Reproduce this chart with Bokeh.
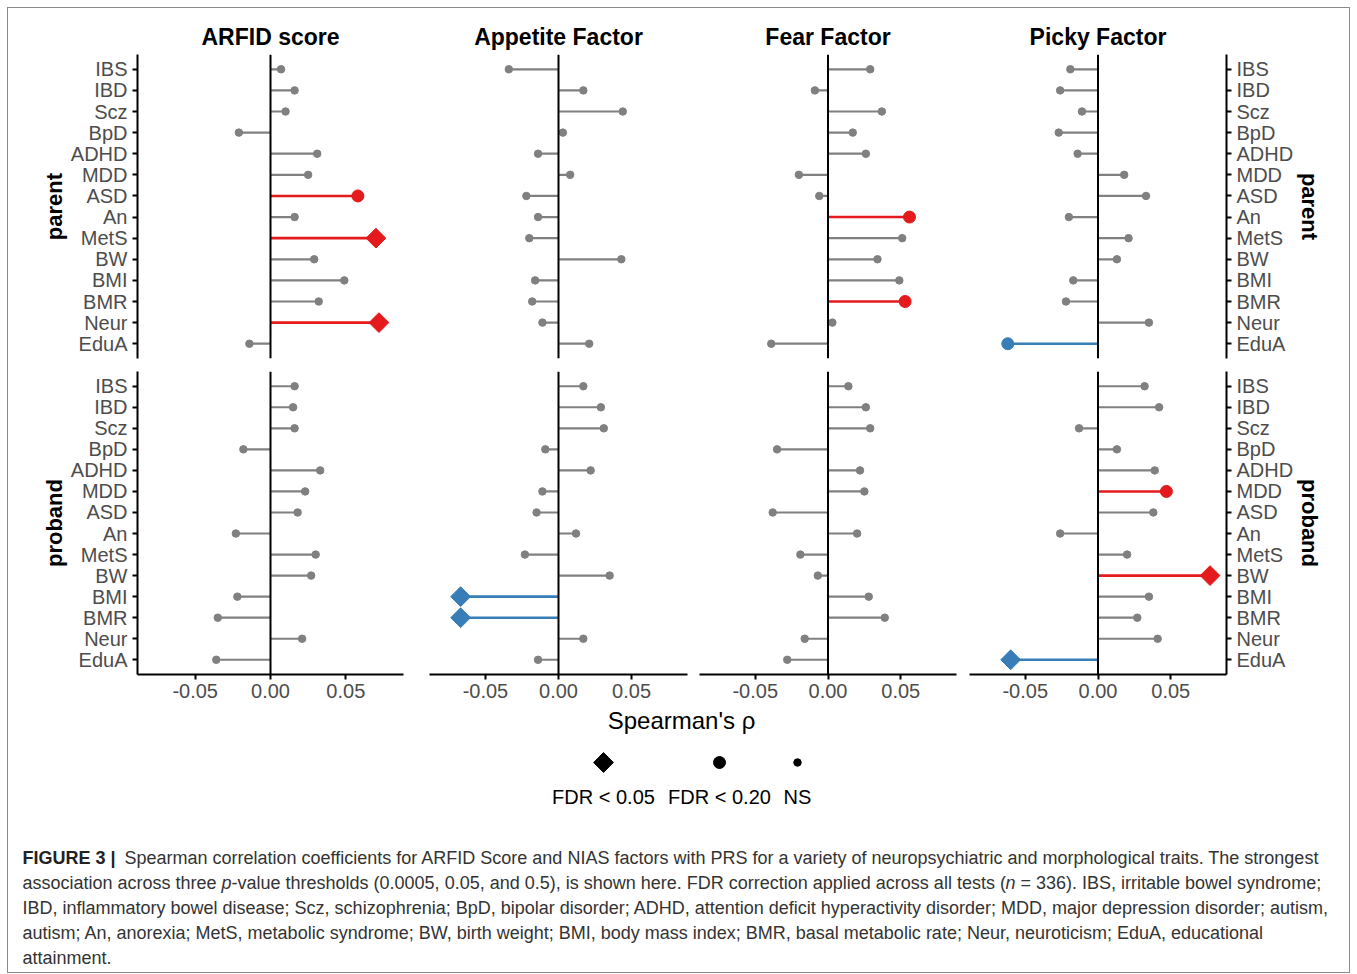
import math
from bokeh.plotting import figure
from bokeh.layouts import row, column
from bokeh.models import Range1d, FactorRange, Span, Label, ColumnDataSource, FixedTicker, NumeralTickFormatter
from bokeh.embed import file_html
from bokeh.resources import INLINE

# ---------------- data ----------------
traits = ["IBS", "IBD", "Scz", "BpD", "ADHD", "MDD", "ASD", "An", "MetS", "BW", "BMI", "BMR", "Neur", "EduA"]
factors = ["ARFID score", "Appetite Factor", "Fear Factor", "Picky Factor"]
groups = ["parent", "proband"]

# Spearman's rho (parent PRS)
parent_arfid    = [0.007, 0.016, 0.010, -0.021, 0.031, 0.025, 0.058, 0.016, 0.070, 0.029, 0.049, 0.032, 0.072, -0.014]
parent_appetite = [-0.034, 0.017, 0.044, 0.003, -0.014, 0.008, -0.022, -0.014, -0.020, 0.043, -0.016, -0.018, -0.011, 0.021]
parent_fear     = [0.029, -0.009, 0.037, 0.017, 0.026, -0.020, -0.006, 0.056, 0.051, 0.034, 0.049, 0.053, 0.003, -0.039]
parent_picky    = [-0.019, -0.026, -0.011, -0.027, -0.014, 0.018, 0.033, -0.020, 0.021, 0.013, -0.017, -0.022, 0.035, -0.062]
# Spearman's rho (proband PRS)
proband_arfid    = [0.016, 0.015, 0.016, -0.018, 0.033, 0.023, 0.018, -0.023, 0.030, 0.027, -0.022, -0.035, 0.021, -0.036]
proband_appetite = [0.017, 0.029, 0.031, -0.009, 0.022, -0.011, -0.015, 0.012, -0.023, 0.035, -0.067, -0.067, 0.017, -0.014]
proband_fear     = [0.014, 0.026, 0.029, -0.035, 0.022, 0.025, -0.038, 0.020, -0.019, -0.007, 0.028, 0.039, -0.016, -0.028]
proband_picky    = [0.032, 0.042, -0.013, 0.013, 0.039, 0.047, 0.038, -0.026, 0.020, 0.077, 0.035, 0.027, 0.041, -0.060]

# significance: 2 = FDR < 0.05, 1 = FDR < 0.20, 0 = NS
parent_arfid_sig    = [0, 0, 0, 0, 0, 0, 1, 0, 2, 0, 0, 0, 2, 0]
parent_appetite_sig = [0, 0, 0, 0, 0, 0, 0, 0, 0, 0, 0, 0, 0, 0]
parent_fear_sig     = [0, 0, 0, 0, 0, 0, 0, 1, 0, 0, 0, 1, 0, 0]
parent_picky_sig    = [0, 0, 0, 0, 0, 0, 0, 0, 0, 0, 0, 0, 0, 1]
proband_arfid_sig    = [0, 0, 0, 0, 0, 0, 0, 0, 0, 0, 0, 0, 0, 0]
proband_appetite_sig = [0, 0, 0, 0, 0, 0, 0, 0, 0, 0, 2, 2, 0, 0]
proband_fear_sig     = [0, 0, 0, 0, 0, 0, 0, 0, 0, 0, 0, 0, 0, 0]
proband_picky_sig    = [0, 0, 0, 0, 0, 1, 0, 0, 0, 2, 0, 0, 0, 2]

x_ticks = [-0.05, 0.0, 0.05]
legend_labels = ["FDR < 0.05", "FDR < 0.20", "NS"]
legend_levels = [2, 1, 0]

rho = {
    ("parent", 0): (parent_arfid, parent_arfid_sig),
    ("parent", 1): (parent_appetite, parent_appetite_sig),
    ("parent", 2): (parent_fear, parent_fear_sig),
    ("parent", 3): (parent_picky, parent_picky_sig),
    ("proband", 0): (proband_arfid, proband_arfid_sig),
    ("proband", 1): (proband_appetite, proband_appetite_sig),
    ("proband", 2): (proband_fear, proband_fear_sig),
    ("proband", 3): (proband_picky, proband_picky_sig),
}

# ---------------- style / layout ----------------
FONT = "Liberation Sans"
RED, BLUE, GREY = "#E41A1C", "#377EB8", "#808080"
TICK_COLOR = "#4D4D4D"
XLIM = (-0.0883, 0.0883)
frame_w = [266, 258, 257, 257]
border_l = [129, 13, 6, 7]
border_r = [13, 6, 6, 123]
row_frame_h = [304, 303]
row_border_t = [46, 7]
row_border_b = [6, 32]
MARK = {2: ("square", 14, math.pi / 4), 1: ("circle", 12, 0.0), 0: ("circle", 7.5, 0.0)}


def style_axis(ax, label=None):
    ax.axis_line_width = 2
    ax.axis_line_color = "black"
    ax.major_tick_line_width = 2
    ax.major_tick_line_color = "black"
    ax.major_tick_out = 5
    ax.major_tick_in = 0
    ax.minor_tick_line_color = None
    ax.major_label_text_font = FONT
    ax.major_label_text_font_size = "20px"
    ax.major_label_text_color = TICK_COLOR
    ax.major_label_standoff = 5
    if label is not None:
        ax.axis_label = label
        ax.axis_label_text_font = FONT
        ax.axis_label_text_font_size = "22px"
        ax.axis_label_text_font_style = "bold"
        ax.axis_label_text_color = "black"
        ax.axis_label_standoff = 1


def panel(gi, fi):
    vals, sig = rho[(groups[gi], fi)]
    colors = [(RED if v > 0 else BLUE) if s > 0 else GREY for v, s in zip(vals, sig)]
    src = ColumnDataSource(dict(
        trait=traits, rho=vals, color=colors,
        marker=[MARK[s][0] for s in sig], size=[MARK[s][1] for s in sig],
        angle=[MARK[s][2] for s in sig], lw=[2.6 if s > 0 else 2.2 for s in sig],
    ))
    kw = {}
    if gi == 0:
        kw["title"] = factors[fi]
    yloc = "left" if fi == 0 else ("right" if fi == 3 else None)
    xloc = "below" if gi == 1 else None
    p = figure(frame_width=frame_w[fi], frame_height=row_frame_h[gi],
               x_range=Range1d(*XLIM),
               y_range=FactorRange(factors=traits[::-1], range_padding=0.2, range_padding_units="absolute"),
               x_axis_location=xloc, y_axis_location=yloc,
               min_border_left=border_l[fi], min_border_right=border_r[fi],
               min_border_top=row_border_t[gi], min_border_bottom=row_border_b[gi],
               output_backend="svg", toolbar_location=None, **kw)
    p.outline_line_color = None
    p.background_fill_color = "white"
    p.border_fill_color = "white"
    p.xgrid.grid_line_color = None
    p.ygrid.grid_line_color = None
    if gi == 0:
        p.title.align = "center"
        p.title.text_font = FONT
        p.title.text_font_size = "23px"
        p.title.text_font_style = "bold"
        p.title.text_color = "black"
        p.title.standoff = 9
    if xloc is not None:
        ax = p.xaxis[0]
        style_axis(ax)
        ax.ticker = FixedTicker(ticks=x_ticks)
        ax.formatter = NumeralTickFormatter(format="0.00")
        ax.major_label_standoff = 4
    if yloc is not None:
        style_axis(p.yaxis[0], groups[gi])
    p.segment(x0=0, y0="trait", x1="rho", y1="trait", line_color="color", line_width="lw", source=src)
    p.add_layout(Span(location=0, dimension="height", line_color="black", line_width=2))
    p.scatter(x="rho", y="trait", marker="marker", size="size", angle="angle",
              fill_color="color", line_color="color", source=src)
    return p


rows = [row(*[panel(gi, fi) for fi in range(4)], spacing=0) for gi in range(2)]

# ---------------- bottom: axis title, legend, caption ----------------
BW_, BH_ = 1341, 266
b = figure(width=BW_, height=BH_, x_range=Range1d(0, BW_), y_range=Range1d(BH_, 0),
           x_axis_location=None, y_axis_location=None,
           min_border_left=0, min_border_right=0, min_border_top=0, min_border_bottom=0,
           output_backend="svg", toolbar_location=None)
b.outline_line_color = None
b.xgrid.grid_line_color = None
b.ygrid.grid_line_color = None

b.add_layout(Label(x=673, y=0, text="Spearman's \u03c1", text_font=FONT, text_font_size="24px",
                   text_align="center", text_baseline="top", text_color="black"))

LEG_X = [595, 711, 789]
LEG_KEY_Y, LEG_LAB_Y = 56, 90
lsrc = ColumnDataSource(dict(
    x=LEG_X, y=[LEG_KEY_Y] * 3,
    marker=[MARK[l][0] for l in legend_levels], size=[MARK[l][1] for l in legend_levels],
    angle=[MARK[l][2] for l in legend_levels]))
b.scatter(x="x", y="y", marker="marker", size="size", angle="angle", color="black", source=lsrc)
for lx, lab in zip(LEG_X, legend_labels):
    b.add_layout(Label(x=lx, y=LEG_LAB_Y, text=lab, text_font=FONT, text_font_size="20px",
                       text_align="center", text_baseline="middle", text_color="black"))

CAP_COLOR = "#333333"
CAP_Y = [151, 176, 201, 226, 251]
caption = [
    (14, 0, "FIGURE 3 |", "bold"),
    (116, 0, "Spearman correlation coefficients for ARFID Score and NIAS factors with PRS for a variety of neuropsychiatric and morphological traits. The strongest", "normal"),
    (14, 1, "association across three", "normal"),
    (213, 1, "p", "italic"),
    (223, 1, "-value thresholds (0.0005, 0.05, and 0.5), is shown here. FDR correction applied across all tests (", "normal"),
    (997, 1, "n", "italic"),
    (1012, 1, "= 336). IBS, irritable bowel syndrome;", "normal"),
    (14, 2, "IBD, inflammatory bowel disease; Scz, schizophrenia; BpD, bipolar disorder; ADHD, attention deficit hyperactivity disorder; MDD, major depression disorder; autism,", "normal"),
    (14, 3, "autism; An, anorexia; MetS, metabolic syndrome; BW, birth weight; BMI, body mass index; BMR, basal metabolic rate; Neur, neuroticism; EduA, educational", "normal"),
    (14, 4, "attainment.", "normal"),
]
for cx, li, txt, st in caption:
    b.add_layout(Label(x=cx, y=CAP_Y[li], text=txt, text_font=FONT, text_font_size="18px",
                       text_font_style=st, text_align="left", text_baseline="middle",
                       text_color="#222222" if st == "bold" else CAP_COLOR))

layout = column(rows[0], rows[1], b, spacing=0, margin=(8, 8, 0, 8),
                styles={"box-shadow": "0 0 0 1px #8a8a8a"})

open("out.html", "w").write(file_html(layout, INLINE))
